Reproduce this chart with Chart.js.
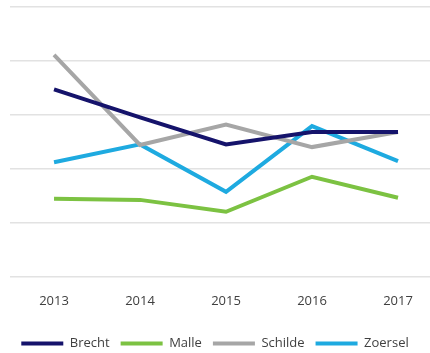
<!DOCTYPE html>
<html>
<head>
<meta charset="utf-8">
<script src="https://cdn.jsdelivr.net/npm/chart.js@4"></script>
<style>
html,body{margin:0;padding:0;background:#fff;overflow:hidden;}
#wrap{width:430px;height:353px;position:relative;}
</style>
</head>
<body>
<div id="wrap"><canvas id="c"></canvas></div>
<script>
const years = [2013, 2014, 2015, 2016, 2017];
const tickLabels = ['2013', '2014', '2015', '2016', '2017'];
const brecht  = [34.7, 29.5, 24.5, 26.8, 26.8];
const malle   = [14.4, 14.2, 12.0, 18.5, 14.6];
const schilde = [41.1, 24.4, 28.2, 24.0, 26.8];
const zoersel = [21.2, 24.5, 15.7, 27.9, 21.4];

const seriesNames = ['Brecht', 'Malle', 'Schilde', 'Zoersel'];
const seriesValues = [brecht, malle, schilde, zoersel];
const seriesColors = ['#15136b', '#7cc242', '#a6a6a6', '#1eaae0'];

const datasets = seriesNames.map((name, k) => ({
  label: name,
  data: years.map((y, i) => ({x: y, y: seriesValues[k][i]})),
  borderColor: seriesColors[k],
  backgroundColor: seriesColors[k],
  borderWidth: 4,
  pointRadius: 0,
  pointHoverRadius: 0,
  tension: 0,
  fill: false
}));

new Chart(document.getElementById('c'), {
  type: 'line',
  data: {datasets},
  options: {
    responsive: true,
    maintainAspectRatio: false,
    animation: false,
    layout: {padding: {left: 0, right: 0, top: 7, bottom: -7}},
    plugins: {
      tooltip: {enabled: false},
      legend: {
        position: 'bottom',
        labels: {
          usePointStyle: true,
          pointStyle: 'line',
          pointStyleWidth: 42,
          boxHeight: 10,
          padding: 11,
          color: '#404040',
          font: {family: 'Open Sans', size: 13}
        }
      }
    },
    scales: {
      x: {
        type: 'linear',
        min: 2012.488,
        max: 2017.372,
        afterBuildTicks: (s) => { s.ticks = years.map(v => ({value: v})); },
        afterFit: (s) => { s.height += 8; },
        grid: {display: false},
        border: {display: false},
        ticks: {
          padding: 9,
          color: '#404040',
          font: {family: 'Open Sans', size: 13},
          callback: (v) => tickLabels[years.indexOf(v)] ?? ''
        }
      },
      y: {
        min: 0,
        max: 50,
        afterBuildTicks: (s) => { s.ticks = [0,10,20,30,40,50].map(v => ({value: v})); },
        afterFit: (s) => { s.width = 10; },
        border: {display: false},
        grid: {color: '#e2e2e2', lineWidth: 1.5, drawTicks: false},
        ticks: {display: false}
      }
    }
  }
});
</script>
</body>
</html>
